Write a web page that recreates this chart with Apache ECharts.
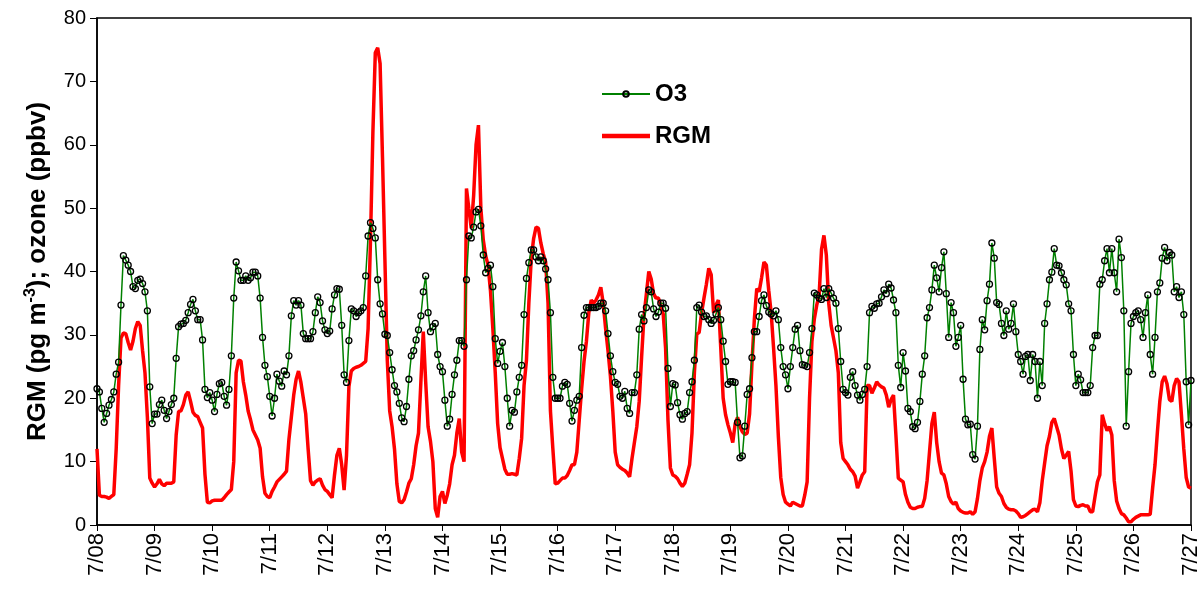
<!DOCTYPE html>
<html><head><meta charset="utf-8">
<script src="https://cdn.jsdelivr.net/npm/echarts@6/dist/echarts.min.js"></script>
<style>html,body{margin:0;padding:0;background:#fff}#c{width:1203px;height:590px}</style>
</head><body><div id="c"></div>
<script>
// Tick labels (one per day, hourly data between them)
const dayLabels = ['7/08','7/09','7/10','7/11','7/12','7/13','7/14','7/15','7/16','7/17','7/18','7/19','7/20','7/21','7/22','7/23','7/24','7/25','7/26','7/27'];
const hoursPerDay = 24;

// O3 (ppbv), hourly from 7/08 00:00 to 7/27 00:00 (one row per day)
const o3 = [
 21.5,21.0,18.4,16.2,17.6,18.9,19.8,21.0,23.8,25.7,34.7,42.5,41.8,41.0,40.0,37.6,37.3,38.6,38.8,38.1,36.8,33.8,21.8,16.0,
 17.5,17.5,19.0,19.7,18.1,16.8,17.9,19.0,20.0,26.3,31.3,31.7,31.8,32.3,33.5,34.8,35.6,33.8,32.4,32.4,29.2,21.4,20.1,20.9,
 19.7,17.9,20.6,22.3,22.5,20.3,18.9,21.4,26.7,35.8,41.5,40.1,38.6,38.6,39.3,38.6,39.0,39.9,39.9,39.3,35.8,29.6,25.2,23.4,
 20.3,17.2,20.0,23.8,22.7,21.9,24.3,23.7,26.7,33.0,35.4,34.7,35.4,34.7,30.2,29.4,29.4,29.4,30.5,33.5,36.0,35.1,32.2,30.8,
 30.2,30.6,34.1,36.3,37.3,37.2,31.5,23.7,22.5,29.1,34.1,33.8,32.9,33.5,33.8,34.3,39.3,45.6,47.7,46.8,45.3,38.7,34.9,33.3,
 30.1,29.9,27.2,24.5,22.0,21.0,19.2,16.9,16.3,18.7,23.0,26.7,27.5,29.2,30.8,33.0,36.8,39.3,33.5,30.5,31.3,31.8,26.9,25.0,
 24.2,19.7,15.6,16.7,20.6,23.7,26.0,29.1,29.1,28.2,38.7,45.6,45.3,47.0,49.4,49.8,47.2,42.6,39.8,40.5,41.0,37.6,29.4,25.5,
 27.4,28.8,25.0,20.0,15.6,18.1,17.8,21.0,23.3,25.2,33.2,38.9,41.4,43.4,43.4,42.3,41.7,42.3,41.7,40.4,38.7,33.5,23.3,20.0,
 20.0,20.0,21.9,22.5,22.2,19.2,16.4,18.1,19.7,20.3,28.0,33.1,34.3,34.3,34.3,34.3,34.3,34.5,35.0,35.0,33.8,30.2,26.7,24.2,
 22.5,22.2,20.3,20.0,21.1,18.4,17.6,20.9,20.9,23.7,30.9,33.2,32.2,34.3,37.1,36.8,34.1,32.9,33.6,35.0,35.0,34.2,24.7,18.7,
 22.3,22.1,19.3,17.4,16.7,17.6,17.9,20.9,22.6,26.0,34.3,34.7,33.6,32.9,33.0,32.4,31.8,32.3,33.3,34.3,32.4,29.0,25.8,22.2,
 22.6,22.6,22.5,16.2,10.6,10.9,15.6,20.6,21.5,26.4,30.5,30.5,32.9,35.4,36.3,34.6,33.6,33.3,33.0,33.8,32.4,28.0,25.0,23.7,
 21.5,25.0,28.0,30.9,31.5,27.5,25.3,25.2,25.0,27.2,31.0,36.6,36.3,35.8,35.6,37.3,35.9,37.3,36.6,35.8,35.0,31.0,25.8,21.4,
 20.9,20.5,23.3,24.2,22.0,20.5,19.7,20.6,21.4,25.0,33.5,34.5,34.2,34.9,35.0,36.0,37.1,36.5,38.0,37.4,35.5,33.5,25.2,21.7,
 27.2,24.3,18.4,17.9,15.5,15.2,16.2,19.5,23.8,26.7,32.7,34.3,37.1,41.0,39.0,36.8,40.6,43.1,36.5,29.6,35.1,33.5,28.2,29.6,
 31.5,23.0,16.7,15.8,15.9,11.1,10.4,15.6,27.7,32.4,30.8,35.4,38.0,44.5,42.1,35.1,34.8,31.8,29.9,33.8,30.9,31.8,34.9,30.5,
 26.9,25.8,23.8,26.6,26.9,22.8,26.9,25.8,20.0,25.8,22.0,31.8,34.9,38.7,39.9,43.6,41.0,40.9,39.8,38.7,37.9,34.9,33.8,26.9,
 22.0,23.8,22.9,20.9,20.9,20.9,22.0,28.0,29.9,29.9,38.0,38.7,41.7,43.6,39.8,43.6,39.8,36.8,45.1,42.2,33.8,15.6,24.2,31.8,
 32.9,33.5,33.8,32.4,29.6,33.5,36.3,26.9,23.8,29.6,36.8,38.2,42.1,43.8,41.7,43.0,42.6,36.8,37.6,35.9,36.8,33.2,22.6,15.8,22.8
];

// RGM (pg m-3), hourly, same time base
const rgm = [
 12.0,4.7,4.5,4.5,4.4,4.2,4.5,4.8,12.0,22.0,29.5,30.3,30.2,28.8,27.6,29.0,31.0,32.1,31.5,27.5,24.0,17.0,7.4,6.6,
 6.0,6.5,7.2,6.5,6.2,6.6,6.6,6.6,6.8,14.2,17.9,18.0,19.0,20.5,21.0,19.5,17.8,17.3,17.1,16.2,15.3,8.0,3.6,3.5,
 3.8,3.9,3.9,3.9,3.9,4.3,4.8,5.2,5.6,10.0,24.0,26.0,25.9,22.6,20.5,18.0,16.6,15.0,14.2,13.4,12.1,7.6,5.0,4.5,
 4.3,5.3,6.0,6.8,7.2,7.6,8.0,8.5,13.5,17.0,20.5,23.0,24.3,22.5,20.0,17.5,12.0,7.0,6.3,6.8,7.1,7.3,6.3,5.6,
 5.3,4.8,4.3,7.9,11.0,12.1,9.5,5.5,11.0,21.8,24.3,24.7,24.9,25.0,25.2,25.5,25.8,31.0,45.0,62.0,74.5,75.3,72.8,58.0,
 42.0,26.0,18.0,15.5,12.0,6.5,3.7,3.5,4.0,5.2,6.6,7.3,9.5,12.5,14.5,22.6,30.5,22.6,15.5,13.2,10.0,2.6,1.2,4.5,
 5.3,3.4,4.7,6.5,9.5,11.0,14.5,16.8,11.5,10.0,53.1,49.9,46.8,52.0,60.0,63.1,50.0,45.0,42.5,41.0,37.0,31.0,24.0,16.0,
 12.2,10.5,8.8,8.0,8.0,8.1,8.0,7.9,10.5,13.7,22.0,26.0,35.0,42.0,45.2,47.0,46.8,44.5,42.8,41.5,35.0,18.0,12.1,6.5,
 6.6,7.0,7.4,7.4,7.8,8.6,9.5,9.5,11.5,16.5,21.5,25.8,29.0,33.5,35.5,35.0,35.5,36.3,37.5,35.0,31.0,27.5,23.5,18.0,
 11.5,9.5,9.1,8.8,8.6,8.2,7.6,10.5,13.0,15.5,19.5,26.5,33.0,36.5,40.0,38.8,36.5,35.8,35.8,34.7,33.3,27.9,16.5,9.0,
 7.9,7.7,7.3,6.6,6.1,6.6,8.0,9.5,14.5,24.0,30.1,30.4,33.5,35.8,38.0,40.5,39.5,33.5,34.7,35.5,27.9,20.0,17.4,15.8,
 14.5,13.0,16.0,17.0,15.5,14.7,14.3,14.5,17.5,25.5,32.5,37.3,36.8,39.0,41.5,41.0,37.0,33.5,28.0,22.0,14.0,7.5,4.8,3.6,
 3.3,3.0,3.6,3.4,3.2,3.0,3.0,4.7,6.8,20.0,29.0,32.5,34.7,36.3,43.5,45.7,42.6,35.0,31.5,29.5,27.5,24.0,13.0,10.5,
 10.0,9.5,8.8,8.4,7.7,5.8,6.8,7.9,8.4,22.0,22.0,20.8,21.6,22.6,22.1,21.8,21.6,20.5,18.6,19.8,20.5,14.2,7.4,7.1,
 6.8,4.8,3.6,2.8,2.6,2.6,2.8,2.9,2.9,4.2,7.0,11.5,16.0,17.8,13.0,10.0,8.2,7.9,6.5,4.5,3.7,3.3,3.6,2.6,
 2.2,2.0,1.9,1.9,2.1,1.7,2.1,4.2,7.0,9.0,10.0,11.5,14.0,15.3,10.5,6.0,5.0,4.5,3.4,2.8,2.5,2.4,2.4,2.2,
 1.8,1.2,1.3,1.5,1.8,2.1,2.4,2.5,2.1,3.5,7.0,9.8,12.5,14.0,16.2,16.8,15.5,14.2,12.0,10.5,11.0,11.6,8.5,4.0,
 3.0,2.9,3.1,3.2,3.0,3.0,2.1,2.1,4.5,6.8,7.9,17.4,16.0,14.9,15.5,14.2,7.0,3.8,2.6,1.8,1.6,1.1,0.5,0.5,
 0.9,1.2,1.4,1.6,1.6,1.6,1.6,1.7,5.8,9.5,14.7,19.5,22.6,23.5,22.3,19.8,19.5,22.0,23.1,22.6,17.4,12.0,7.5,6.0,5.8
];

const font = '"Liberation Sans", Arial, Helvetica, sans-serif';
const chart = echarts.init(document.getElementById('c'), null, {renderer: 'canvas'});
chart.setOption({
  animation: false,
  backgroundColor: '#fff',
  grid: {left: 97, right: 12, top: 18, bottom: 65, containLabel: false, outerBoundsMode: 'none',
         show: true, borderColor: '#000', borderWidth: 1.5, backgroundColor: 'transparent'},
  legend: {
    data: [
      {name: 'O3'},
      {name: 'RGM', icon: 'path://M0,0L48,0L48,4.5L0,4.5Z', itemStyle: {color: '#ff0000', borderWidth: 0}}
    ],
    orient: 'vertical', left: 596, top: 75,
    itemWidth: 48, itemHeight: 7, itemGap: 14, symbolKeepAspect: true,
    textStyle: {fontSize: 24, fontWeight: 'bold', fontFamily: font, color: '#000', lineHeight: 28}
  },
  xAxis: {
    type: 'value', min: 0, max: (dayLabels.length - 1) * hoursPerDay, interval: hoursPerDay,
    axisLine: {show: true, lineStyle: {color: '#000', width: 1.5}},
    axisTick: {show: true, inside: false, length: 6, lineStyle: {color: '#000', width: 1}},
    splitLine: {show: false},
    axisLabel: {rotate: 90, margin: 8, fontSize: 22, color: '#000', fontFamily: font,
      formatter: v => dayLabels[Math.round(v / hoursPerDay)]}
  },
  yAxis: {
    type: 'value', min: 0, max: 80, interval: 10,
    axisLine: {show: true, lineStyle: {color: '#000', width: 1.5}},
    axisTick: {show: true, inside: false, length: 7, lineStyle: {color: '#000', width: 1}},
    splitLine: {show: false},
    axisLabel: {margin: 11, fontSize: 20, color: '#000', fontFamily: font},
    name: 'RGM (pg m{sup|-3}); ozone (ppbv)', nameLocation: 'middle', nameGap: 44,
    nameTextStyle: {fontSize: 26, fontWeight: 'bold', fontFamily: font, color: '#000', lineHeight: 30,
      rich: {sup: {fontSize: 16, fontWeight: 'bold', fontFamily: font, color: '#000', verticalAlign: 'top', lineHeight: 30}}}
  },
  series: [
    {name: 'RGM', type: 'line', data: rgm.map((v, i) => [i, v]), symbol: 'none', showSymbol: false,
     lineStyle: {color: '#ff0000', width: 3.5}, itemStyle: {color: '#ff0000'}, z: 2},
    {name: 'O3', type: 'line', data: o3.map((v, i) => [i, v]), symbol: 'circle', symbolSize: 6, showSymbol: true,
     lineStyle: {color: '#008000', width: 1.5},
     itemStyle: {color: 'rgba(255,255,255,0)', borderColor: '#000', borderWidth: 1.3}, z: 3}
  ]
});
</script></body></html>
